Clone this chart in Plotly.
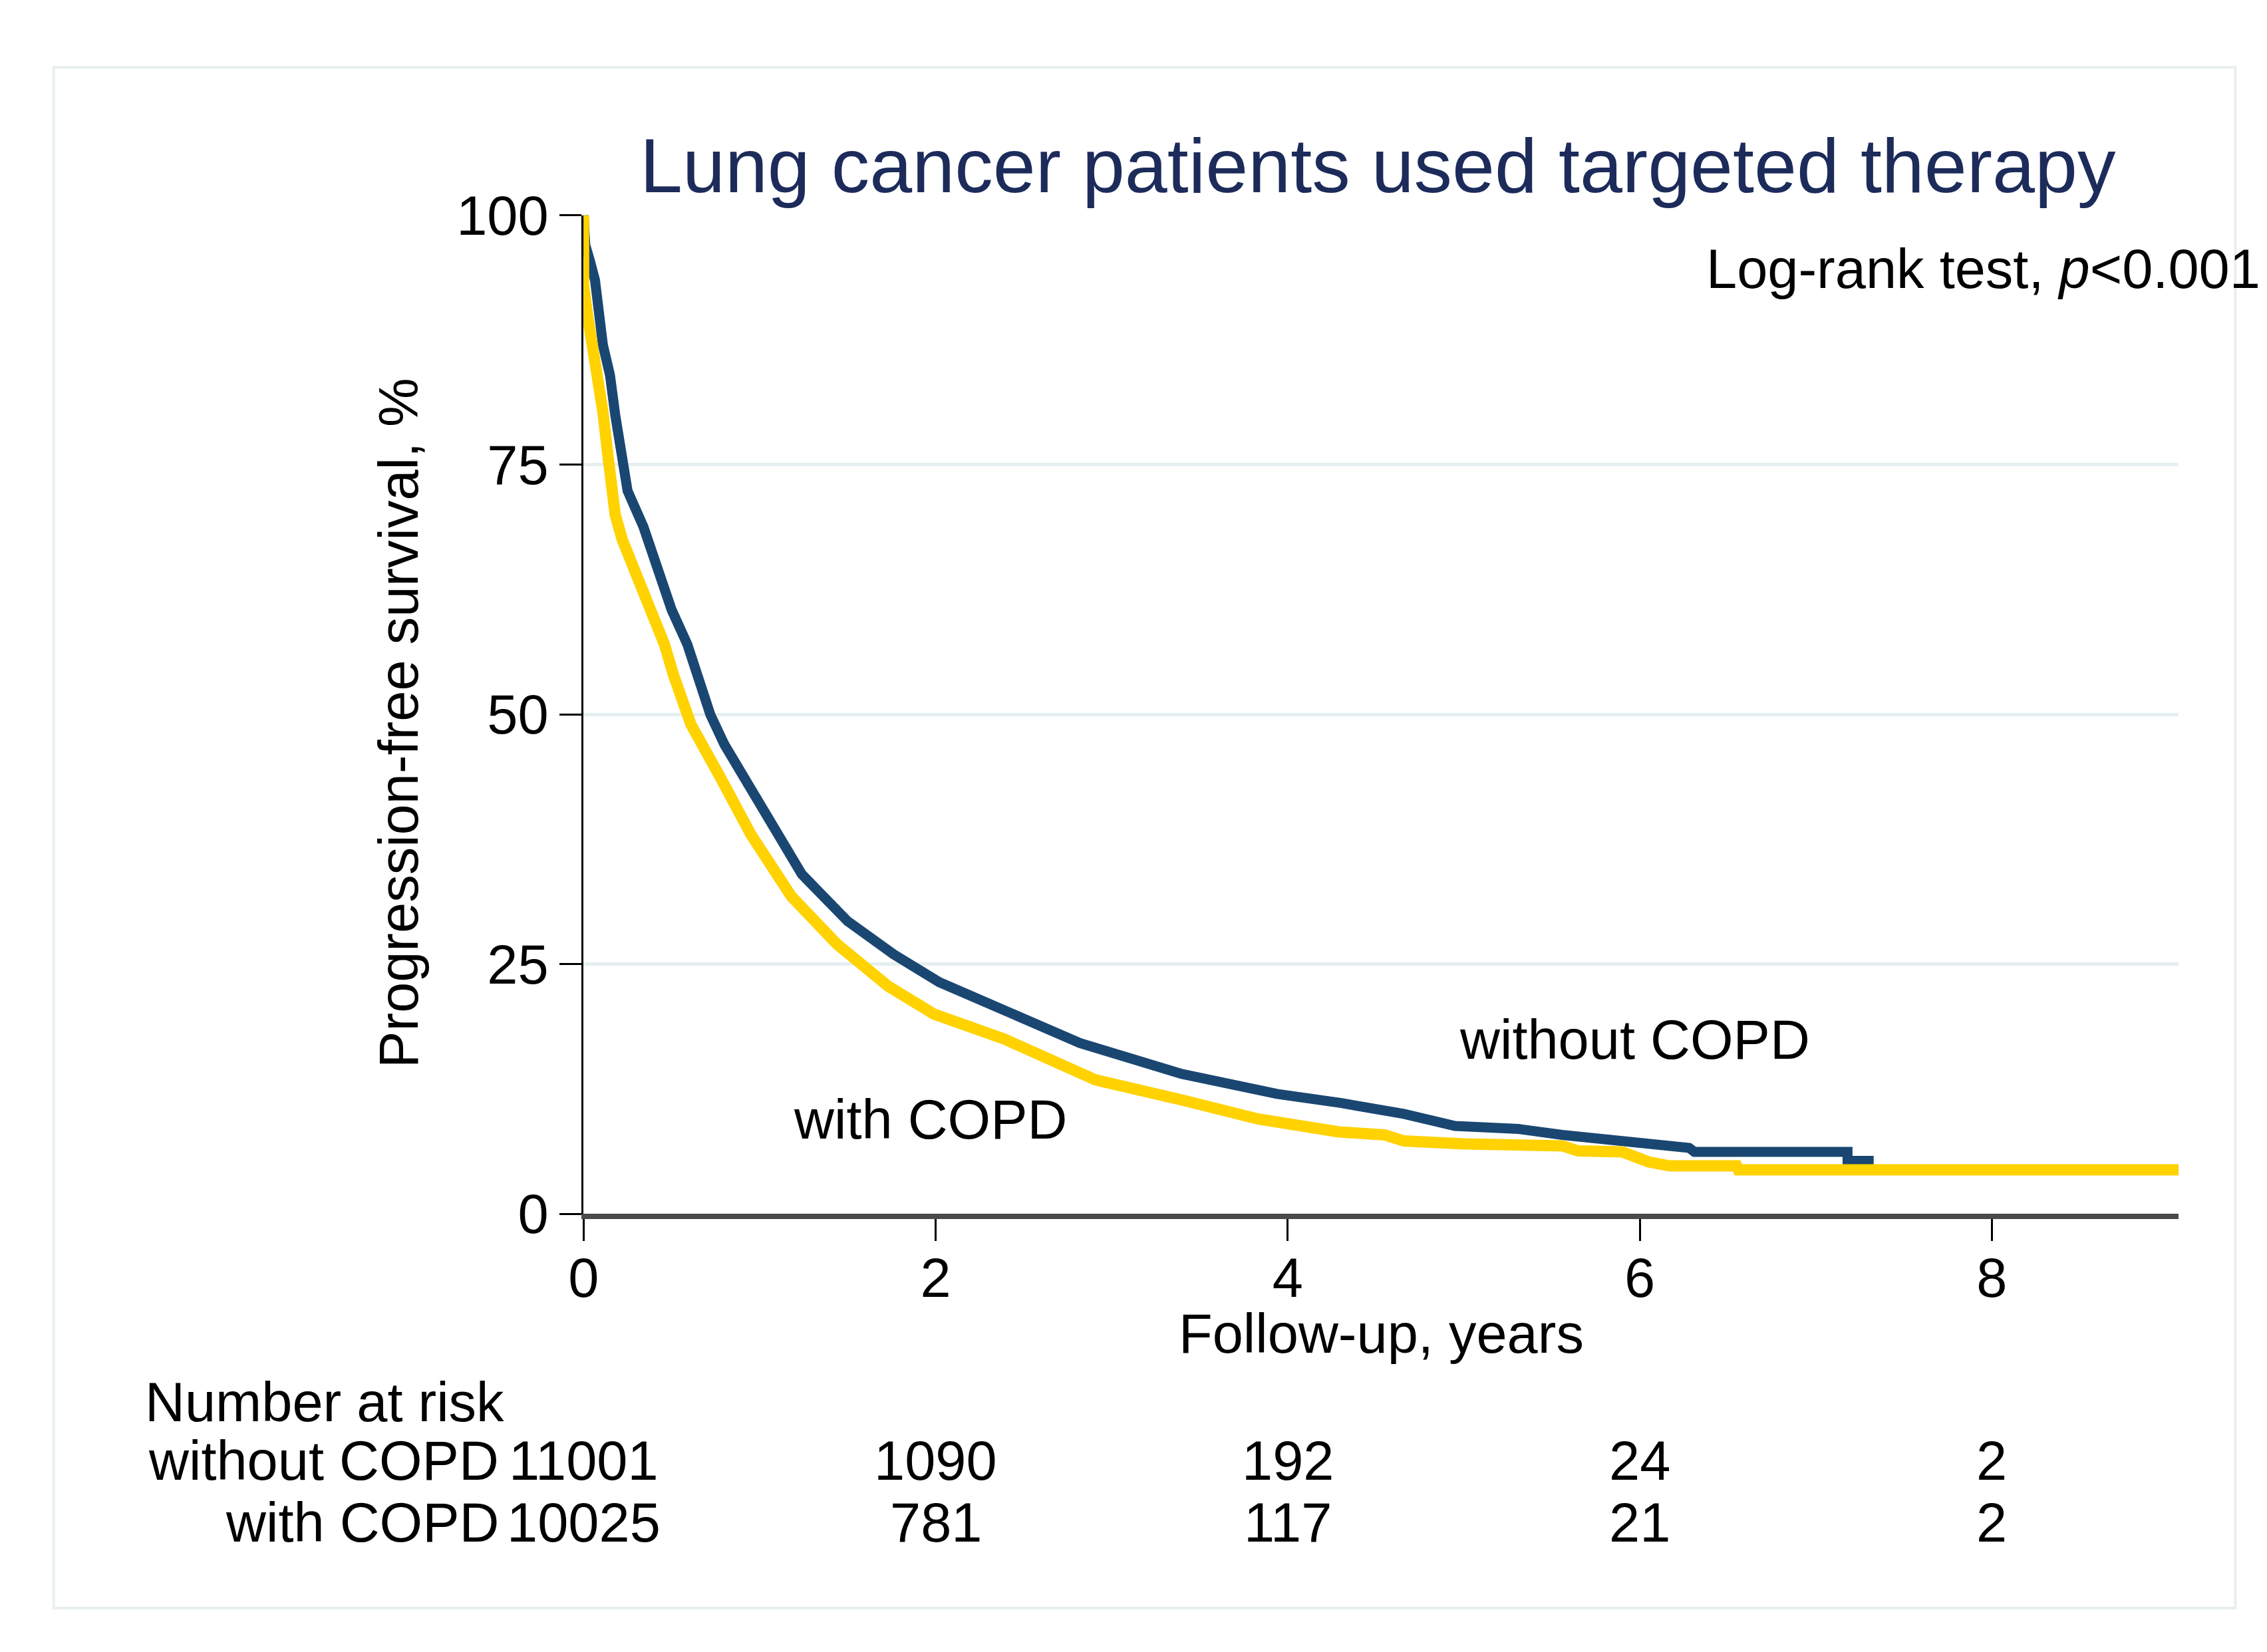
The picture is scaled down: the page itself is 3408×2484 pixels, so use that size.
import plotly.graph_objects as go

# Kaplan-Meier curves (years, % progression-free)
without_t = [0, 0.01, 0.035, 0.065, 0.11, 0.15, 0.18, 0.22, 0.25, 0.34, 0.42, 0.50, 0.59, 0.65, 0.72,
             0.80, 0.90, 1.07, 1.24, 1.50, 1.76, 2.02, 2.39, 2.82, 3.40, 3.94, 4.30, 4.66, 4.95,
             5.31, 5.56, 5.95, 6.28, 6.31, 7.18, 7.18, 7.30, 7.30, 9.06]
without_s = [100, 97, 95.5, 93.5, 87, 84, 80, 75, 72.4, 68.8, 65, 60.5, 57, 54, 50,
             47, 44, 38.7, 34, 29.3, 26, 23.2, 20.3, 17.1, 14.0, 12.0, 11.1, 10.0, 8.8,
             8.5, 7.9, 7.3, 6.6, 6.2, 6.2, 5.3, 5.3, 4.4, 4.4]

with_t = [0, 0, 0.025, 0.07, 0.11, 0.14, 0.18, 0.22, 0.30, 0.38, 0.46, 0.51, 0.61, 0.78, 0.95,
          1.18, 1.44, 1.73, 1.99, 2.39, 2.91, 3.40, 3.83, 4.29, 4.55, 4.66, 5.00, 5.56, 5.65,
          5.90, 6.05, 6.17, 6.55, 6.56, 9.06]
with_s = [100, 93, 89.7, 85, 80.3, 75.7, 70, 67.5, 64, 60.3, 57, 54, 49, 43.6, 38,
          31.8, 27, 22.8, 20.0, 17.5, 13.4, 11.4, 9.5, 8.2, 7.9, 7.3, 7.0, 6.8, 6.3,
          6.2, 5.2, 4.8, 4.8, 4.4, 4.4]

# Number at risk table
risk_times = [0, 2, 4, 6, 8]
risk_without = [11001, 1090, 192, 24, 2]
risk_with = [10025, 781, 117, 21, 2]

W, H = 3408, 2484
FONT = "Liberation Sans, Arial, Helvetica, sans-serif"
NAVY = "#1a4772"
GOLD = "#ffd200"
FS = 83


def py(pix):
    # pixel row -> paper y
    return 1 - pix / H


fig = go.Figure()
fig.add_trace(go.Scatter(x=without_t, y=without_s, mode="lines", name="without COPD",
                         line=dict(color=NAVY, width=15)))
fig.add_trace(go.Scatter(x=with_t, y=with_s, mode="lines", name="with COPD",
                         line=dict(color=GOLD, width=17)))

ann = [
    dict(text="Lung cancer patients used targeted therapy", x=2054 / W, y=py(203),
         font=dict(size=115, color="#1c2b5a")),
    dict(text="Log-rank test, <i>p</i><0.001", x=3392 / W, y=py(364), xanchor="right"),
    dict(text="Progression-free survival, %", x=573 / W, y=py(1073), textangle=-90),
    dict(text="Follow-up, years", x=2059 / W, y=py(2027)),
    dict(text="Number at risk", x=186 / W, y=py(2134), xanchor="left"),
    dict(text="without COPD", x=726 / W, y=py(2226), xanchor="right"),
    dict(text="with COPD", x=726 / W, y=py(2322), xanchor="right"),
    dict(text="without COPD", x=5.97, y=17.4, xref="x", yref="y"),
    dict(text="with COPD", x=1.97, y=9.4, xref="x", yref="y"),
]
for t, a, b in zip(risk_times, risk_without, risk_with):
    ann.append(dict(text=str(a), x=t, y=py(2226), xref="x"))
    ann.append(dict(text=str(b), x=t, y=py(2322), xref="x"))

for a in ann:
    a.setdefault("xref", "paper")
    a.setdefault("yref", "paper")
    a.setdefault("xanchor", "center")
    a["yanchor"] = "middle"
    a["showarrow"] = False
    a.setdefault("font", dict(size=FS))
    a["font"].setdefault("color", "black")
    a["font"]["family"] = FONT

fig.update_layout(
    width=W, height=H,
    margin=dict(l=0, r=0, t=0, b=0),
    paper_bgcolor="white", plot_bgcolor="white",
    showlegend=False,
    font=dict(family=FONT, size=FS, color="black"),
    annotations=ann,
    shapes=[dict(type="rect", xref="paper", yref="paper",
                 x0=50 / W, x1=3352 / W, y0=py(2456), y1=py(49),
                 line=dict(color="#e8eff1", width=4))],
    xaxis=dict(domain=[852 / W, 3266 / W], range=[0, 9.06],
               tickvals=[0, 2, 4, 6, 8], ticks="outside", ticklen=33, tickwidth=3,
               tickcolor="black", showline=True, linecolor="#4a4a4a", linewidth=8,
               showgrid=False, zeroline=False, ticklabelstandoff=-16,
               tickfont=dict(size=FS)),
    yaxis=dict(domain=[py(1840), py(280)], range=[0, 100],
               tickvals=[0, 25, 50, 75, 100], ticks="outside", ticklen=33, tickwidth=3,
               tickcolor="black", showline=True, linecolor="black", linewidth=3,
               showgrid=True, gridcolor="#e6eff0", gridwidth=5, zeroline=False,
               tickfont=dict(size=FS)),
)

fig.write_html("out.html")
